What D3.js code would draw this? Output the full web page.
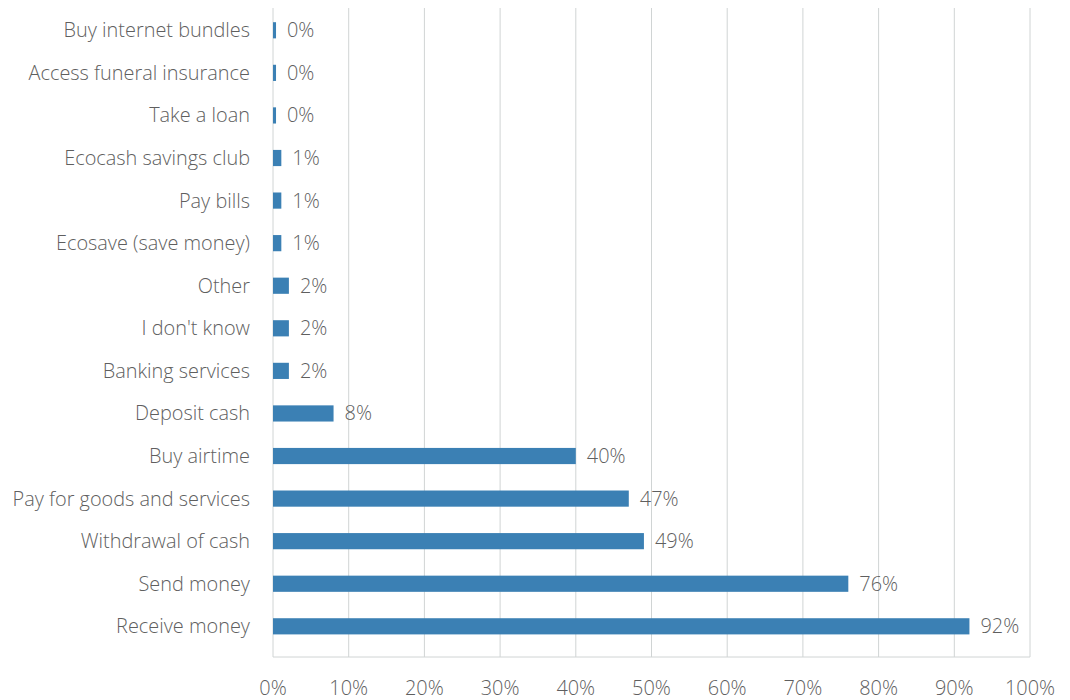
<!DOCTYPE html>
<html>
<head>
<meta charset="utf-8">
<script src="https://cdn.jsdelivr.net/npm/d3@7"></script>
<style>
  body { margin: 0; background: #fff; }
  svg text { font-family: "Open Sans", sans-serif; font-weight: 300; fill: #5f5f5f; }
</style>
</head>
<body>
<div id="chart"></div>
<script>
// 类别（自上而下）
let categories = [
    'Buy internet bundles', 'Access funeral insurance', 'Take a loan',
    'Ecocash savings club', 'Pay bills', 'Ecosave (save money)',
    'Other', "I don't know", 'Banking services', 'Deposit cash',
    'Buy airtime', 'Pay for goods and services', 'Withdrawal of cash',
    'Send money', 'Receive money'
];
// 百分比数值
let values = [0.4, 0.4, 0.4, 1.1, 1.1, 1.1, 2.1, 2.1, 2.1, 8, 40, 47, 49, 76, 92];
let xTicks = [0, 10, 20, 30, 40, 50, 60, 70, 80, 90, 100];

let width = 1070, height = 700;
let plotLeft = 273, plotRight = 1030;
let plotTop = 8, plotBottom = 657;
let fontSize = '19.9px';

let svg = d3.select('#chart').append('svg')
    .attr('width', width)
    .attr('height', height);

let x = d3.scaleLinear().domain([0, 100]).range([plotLeft, plotRight]);
let y = d3.scaleBand().domain(categories).range([9, 647.6]).paddingInner(0.62).paddingOuter(0.31);

// 网格线
svg.append('g').selectAll('line')
    .data(xTicks)
    .join('line')
    .attr('x1', d => x(d)).attr('x2', d => x(d))
    .attr('y1', plotTop).attr('y2', plotBottom)
    .attr('stroke', '#d0d4d4')
    .attr('stroke-width', 1);

svg.append('line')
    .attr('x1', plotLeft).attr('x2', plotRight)
    .attr('y1', plotBottom).attr('y2', plotBottom)
    .attr('stroke', '#d0d4d4');

// 横坐标刻度
svg.append('g').selectAll('text')
    .data(xTicks)
    .join('text')
    .attr('x', d => x(d))
    .attr('y', 688)
    .attr('dy', '0.35em')
    .attr('text-anchor', 'middle')
    .style('font-size', fontSize)
    .text(d => d + '%');

// 类别标签
svg.append('g').selectAll('text')
    .data(categories)
    .join('text')
    .attr('x', 250)
    .attr('y', d => y(d) + y.bandwidth() / 2)
    .attr('dy', '0.35em')
    .attr('text-anchor', 'end')
    .style('font-size', fontSize)
    .text(d => d);

// 柱子
svg.append('g').selectAll('rect')
    .data(values)
    .join('rect')
    .attr('x', x(0))
    .attr('y', (d, i) => y(categories[i]))
    .attr('width', d => x(d) - x(0))
    .attr('height', y.bandwidth())
    .attr('fill', '#3b80b4');

// 数值标签
svg.append('g').selectAll('text')
    .data(values)
    .join('text')
    .attr('x', d => x(d) + 11)
    .attr('y', (d, i) => y(categories[i]) + y.bandwidth() / 2)
    .attr('dy', '0.35em')
    .style('font-size', fontSize)
    .text(d => Math.round(d) + '%');
</script>
</body>
</html>
